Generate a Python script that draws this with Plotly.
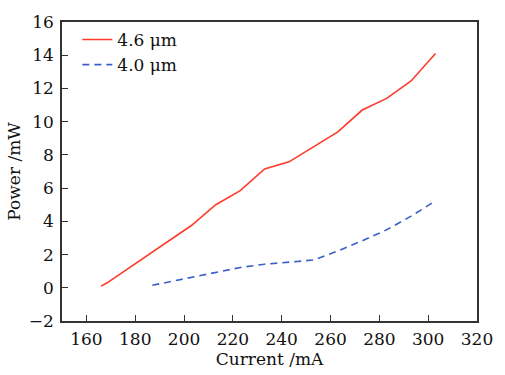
import plotly.graph_objects as go

current_46 = [166, 168.5, 173, 183, 193, 203, 213, 223, 233, 243, 253, 263, 273, 283, 293, 303]
power_46 = [0.1, 0.3, 0.75, 1.75, 2.75, 3.75, 5.0, 5.85, 7.15, 7.58, 8.48, 9.38, 10.7, 11.4, 12.45, 14.1]

current_40 = [187, 203, 213, 223, 233, 243, 253, 263, 273, 283, 293, 303]
power_40 = [0.15, 0.62, 0.89, 1.22, 1.42, 1.54, 1.67, 2.22, 2.83, 3.49, 4.31, 5.23]

x_ticks = [160, 180, 200, 220, 240, 260, 280, 300, 320]
y_ticks = [-2, 0, 2, 4, 6, 8, 10, 12, 14, 16]

font_family = "DejaVu Serif"
fs = 17

fig = go.Figure()
fig.add_trace(go.Scatter(x=current_46, y=power_46, mode="lines", name="4.6 μm",
                         line=dict(color="#ff3a2a", width=1.6)))
fig.add_trace(go.Scatter(x=current_40, y=power_40, mode="lines", name="4.0 μm",
                         line=dict(color="#3a5fc8", width=1.6, dash="7px,5px")))

axis_common = dict(showline=True, linecolor="#333333", linewidth=1.5, mirror=True,
                   ticks="inside", ticklen=6, tickwidth=1.2, tickcolor="#333333",
                   showgrid=False, zeroline=False,
                   tickfont=dict(family=font_family, size=fs, color="#111111"),
                   title_font=dict(family=font_family, size=fs, color="#111111"))

fig.update_xaxes(range=[150, 320], tickvals=x_ticks, title_text="Current /mA",
                 title_standoff=2, ticklabelstandoff=2, **axis_common)
fig.update_yaxes(range=[-2, 16], tickvals=y_ticks, title_text="Power /mW",
                 title_standoff=4, ticklabelstandoff=3, **axis_common)

fig.update_layout(
    width=505, height=375,
    margin=dict(l=62, r=19, t=16, b=52),
    paper_bgcolor="white", plot_bgcolor="white",
    showlegend=True,
    legend=dict(x=0.037, y=1.0, xanchor="left", yanchor="top",
                bgcolor="rgba(0,0,0,0)", borderwidth=0,
                font=dict(family=font_family, size=fs, color="#111111"),
                tracegroupgap=0, itemwidth=30),
)

fig.write_html("out.html")
